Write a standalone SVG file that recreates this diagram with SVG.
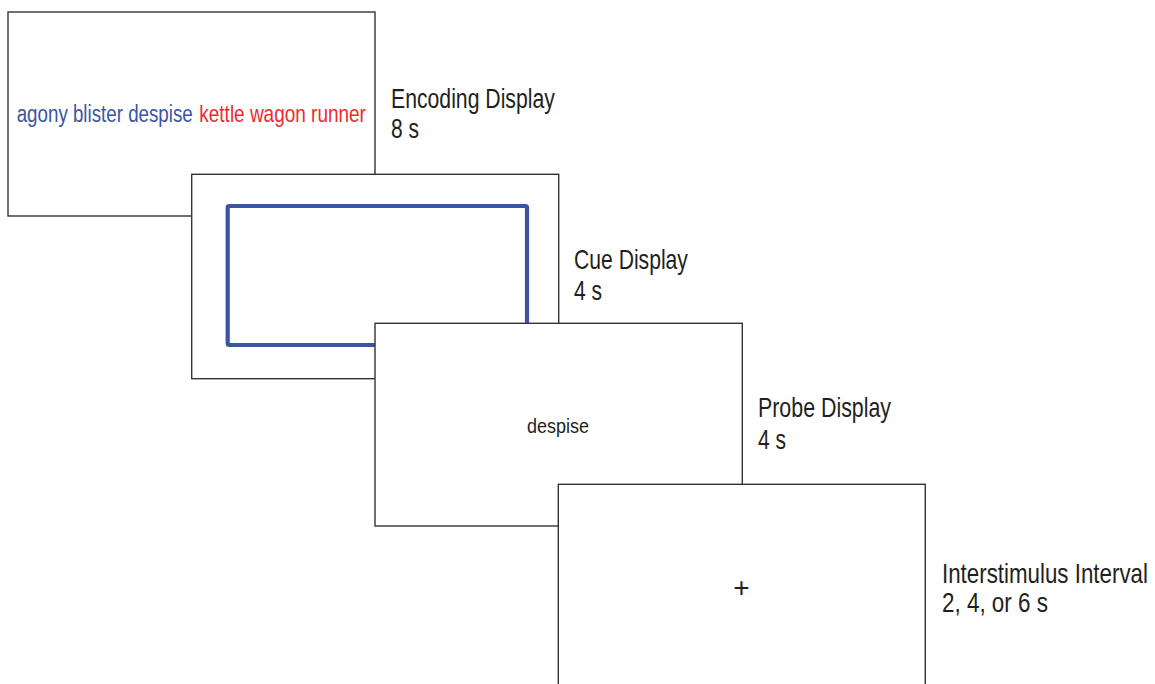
<svg xmlns="http://www.w3.org/2000/svg" width="1155" height="684" viewBox="0 0 1155 684">
<style>
.screen{fill:#fff;stroke:#333;stroke-width:1.4}
.lbl{font-family:"Liberation Sans",Arial,sans-serif;font-size:27px;fill:#231f20}
.word{font-family:"Liberation Sans",Arial,sans-serif;font-size:23px}
</style>
<rect width="1155" height="684" fill="#fff"/>
<g id="encoding">
<rect class="screen" x="8" y="12" width="367" height="204"/>
<text class="word" transform="translate(16.7,121.7) scale(0.815,1)" fill="#3a55a4">agony blister despise</text>
<text class="word" transform="translate(199.3,121.7) scale(0.825,1)" fill="#ee2b2f">kettle wagon runner</text>
<text class="lbl" transform="translate(391,108) scale(0.786,1)">Encoding Display</text>
<text class="lbl" transform="translate(391,137.5) scale(0.778,1)">8 s</text>
</g>
<g id="cue">
<rect class="screen" x="191.7" y="174.3" width="367" height="204.4"/>
<rect x="227.7" y="206" width="299.3" height="139" rx="1.5" fill="none" stroke="#3a55a4" stroke-width="4.2"/>
<text class="lbl" transform="translate(574,269) scale(0.783,1)">Cue Display</text>
<text class="lbl" transform="translate(574,300) scale(0.778,1)">4 s</text>
</g>
<g id="probe">
<rect class="screen" x="375" y="323.3" width="367.3" height="202.7"/>
<text transform="translate(527,433) scale(0.857,1)" font-family="Liberation Sans,Arial,sans-serif" font-size="21" fill="#231f20">despise</text>
<text class="lbl" transform="translate(758,417) scale(0.792,1)">Probe Display</text>
<text class="lbl" transform="translate(758,449) scale(0.778,1)">4 s</text>
</g>
<g id="isi">
<rect class="screen" x="558.3" y="484.3" width="367" height="204"/>
<text x="741.5" y="597" text-anchor="middle" font-family="Liberation Sans,Arial,sans-serif" font-size="28" fill="#231f20">+</text>
<text class="lbl" transform="translate(942,582.5) scale(0.827,1)">Interstimulus Interval</text>
<text class="lbl" transform="translate(942,612) scale(0.831,1)">2, 4, or 6 s</text>
</g>
<g id="connectors"/>
</svg>
